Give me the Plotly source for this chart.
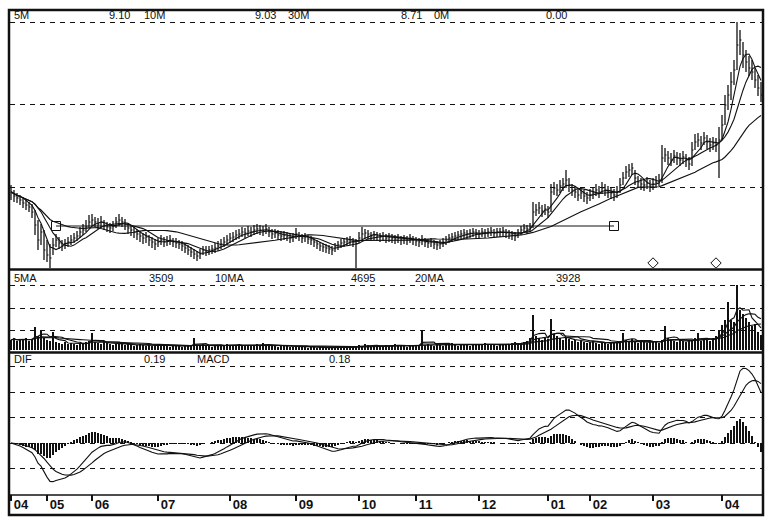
import plotly.graph_objects as go
import pandas as pd

# ---------------- data ----------------
month_labels = ["04", "05", "06", "07", "08", "09", "10", "11", "12", "01", "02", "03", "04"]
month_start = [0, 12, 27, 49, 73, 95, 116, 135, 156, 179, 193, 214, 237]

close = [
    7.88, 7.84, 7.82, 7.80, 7.77, 7.75, 7.73, 7.68, 7.55, 7.40,
    7.48, 7.30, 7.25, 7.22, 7.35, 7.40, 7.37, 7.34, 7.36, 7.38,
    7.40, 7.42, 7.44, 7.48, 7.50, 7.53, 7.58, 7.60, 7.58, 7.56,
    7.58, 7.55, 7.53, 7.52, 7.54, 7.58, 7.60, 7.58, 7.56, 7.52,
    7.50, 7.48, 7.46, 7.44, 7.42, 7.43, 7.40, 7.38, 7.36, 7.38,
    7.40, 7.38, 7.39, 7.40, 7.38, 7.37, 7.36, 7.34, 7.32, 7.30,
    7.28, 7.26, 7.24, 7.26, 7.30, 7.29, 7.30, 7.31, 7.32, 7.34,
    7.36, 7.38, 7.40, 7.42, 7.43, 7.45, 7.46, 7.48, 7.47, 7.49,
    7.48, 7.50, 7.51, 7.50, 7.49, 7.51, 7.48, 7.46, 7.47, 7.45,
    7.44, 7.45, 7.44, 7.42, 7.43, 7.46, 7.44, 7.42, 7.43, 7.41,
    7.40, 7.38, 7.36, 7.34, 7.33, 7.32, 7.31, 7.30, 7.33, 7.35,
    7.37, 7.38, 7.39, 7.40, 7.38, 7.36, 7.42, 7.46, 7.47, 7.46,
    7.44, 7.45, 7.44, 7.43, 7.44, 7.42, 7.43, 7.42, 7.41, 7.42,
    7.40, 7.41, 7.40, 7.42, 7.40, 7.39, 7.38, 7.40, 7.38, 7.37,
    7.38, 7.36, 7.35, 7.36, 7.38, 7.40, 7.42, 7.43, 7.44, 7.45,
    7.46, 7.47, 7.46, 7.47, 7.48, 7.47, 7.46, 7.48, 7.47, 7.48,
    7.49, 7.47, 7.48, 7.48, 7.49, 7.47, 7.46, 7.45, 7.44, 7.47,
    7.50, 7.52, 7.51, 7.53, 7.68, 7.70, 7.72, 7.69, 7.71, 7.68,
    7.88, 7.92, 7.90, 7.94, 7.96, 8.00, 7.95, 7.90, 7.88, 7.85,
    7.87, 7.84, 7.82, 7.85, 7.87, 7.90, 7.88, 7.92, 7.90, 7.88,
    7.87, 7.85, 7.88, 7.95, 8.02, 8.08, 8.10, 8.12, 8.02, 7.98,
    7.96, 7.95, 7.97, 7.94, 7.96, 7.98, 8.00, 8.22, 8.25, 8.22,
    8.20, 8.24, 8.22, 8.20, 8.23, 8.20, 8.16, 8.30, 8.38, 8.40,
    8.37, 8.42, 8.38, 8.35, 8.37, 8.35, 8.40, 8.55, 8.75, 8.85,
    8.98, 9.10, 9.35, 9.40, 9.25, 9.18, 9.12, 9.08, 9.00, 8.92,
    8.85,
]

high = [
    7.95, 7.90, 7.87, 7.85, 7.82, 7.80, 7.78, 7.76, 7.70, 7.60,
    7.56, 7.50, 7.40, 7.36, 7.42, 7.46, 7.43, 7.40, 7.41, 7.43,
    7.45, 7.47, 7.49, 7.53, 7.56, 7.60, 7.65, 7.66, 7.63, 7.62,
    7.64, 7.60, 7.58, 7.57, 7.59, 7.63, 7.66, 7.63, 7.61, 7.57,
    7.54, 7.53, 7.51, 7.49, 7.47, 7.48, 7.45, 7.43, 7.41, 7.42,
    7.45, 7.43, 7.44, 7.45, 7.42, 7.42, 7.40, 7.39, 7.37, 7.35,
    7.33, 7.31, 7.29, 7.31, 7.34, 7.34, 7.34, 7.35, 7.37, 7.39,
    7.41, 7.43, 7.45, 7.47, 7.48, 7.50, 7.51, 7.53, 7.52, 7.54,
    7.53, 7.55, 7.56, 7.55, 7.54, 7.56, 7.53, 7.51, 7.51, 7.50,
    7.49, 7.49, 7.48, 7.47, 7.47, 7.52, 7.48, 7.46, 7.47, 7.45,
    7.44, 7.42, 7.40, 7.38, 7.37, 7.36, 7.35, 7.34, 7.37, 7.39,
    7.41, 7.42, 7.43, 7.44, 7.42, 7.41, 7.48, 7.53, 7.51, 7.50,
    7.48, 7.49, 7.48, 7.47, 7.48, 7.46, 7.47, 7.46, 7.45, 7.46,
    7.44, 7.45, 7.44, 7.46, 7.44, 7.43, 7.42, 7.45, 7.42, 7.41,
    7.42, 7.40, 7.39, 7.40, 7.42, 7.44, 7.46, 7.47, 7.48, 7.49,
    7.50, 7.51, 7.50, 7.51, 7.52, 7.51, 7.50, 7.52, 7.51, 7.52,
    7.53, 7.51, 7.52, 7.52, 7.53, 7.51, 7.50, 7.49, 7.48, 7.51,
    7.54, 7.56, 7.55, 7.57, 7.78, 7.76, 7.78, 7.75, 7.76, 7.74,
    7.96, 7.98, 7.96, 8.00, 8.02, 8.10, 8.02, 7.96, 7.94, 7.91,
    7.93, 7.90, 7.88, 7.91, 7.93, 7.96, 7.94, 7.98, 7.96, 7.94,
    7.93, 7.91, 7.94, 8.02, 8.08, 8.14, 8.16, 8.17, 8.10, 8.04,
    8.02, 8.01, 8.03, 8.00, 8.02, 8.04, 8.06, 8.35, 8.32, 8.29,
    8.27, 8.30, 8.28, 8.27, 8.29, 8.26, 8.23, 8.38, 8.46, 8.47,
    8.44, 8.48, 8.45, 8.42, 8.43, 8.42, 8.53, 8.65, 8.85, 8.95,
    9.08, 9.20, 9.58, 9.50, 9.38, 9.30, 9.24, 9.20, 9.12, 9.05,
    8.98,
]

low = [
    7.80, 7.78, 7.77, 7.75, 7.72, 7.70, 7.68, 7.62, 7.45, 7.30,
    7.35, 7.20, 7.18, 7.12, 7.25, 7.33, 7.31, 7.29, 7.31, 7.33,
    7.35, 7.37, 7.39, 7.42, 7.45, 7.48, 7.52, 7.54, 7.53, 7.51,
    7.52, 7.50, 7.48, 7.47, 7.49, 7.52, 7.54, 7.53, 7.50, 7.46,
    7.44, 7.42, 7.40, 7.38, 7.36, 7.37, 7.34, 7.32, 7.30, 7.33,
    7.35, 7.33, 7.34, 7.35, 7.33, 7.32, 7.31, 7.29, 7.27, 7.25,
    7.23, 7.21, 7.19, 7.21, 7.25, 7.24, 7.25, 7.26, 7.27, 7.29,
    7.31, 7.33, 7.35, 7.37, 7.38, 7.40, 7.41, 7.43, 7.42, 7.44,
    7.43, 7.45, 7.46, 7.45, 7.44, 7.46, 7.43, 7.41, 7.42, 7.40,
    7.39, 7.40, 7.39, 7.37, 7.38, 7.41, 7.39, 7.37, 7.38, 7.36,
    7.35, 7.33, 7.31, 7.29, 7.28, 7.27, 7.26, 7.25, 7.28, 7.30,
    7.32, 7.33, 7.34, 7.35, 7.33, 7.10, 7.37, 7.41, 7.42, 7.41,
    7.39, 7.40, 7.39, 7.38, 7.39, 7.37, 7.38, 7.37, 7.36, 7.37,
    7.35, 7.36, 7.35, 7.37, 7.35, 7.34, 7.33, 7.35, 7.33, 7.32,
    7.33, 7.31, 7.30, 7.31, 7.33, 7.35, 7.37, 7.38, 7.39, 7.40,
    7.41, 7.42, 7.41, 7.42, 7.43, 7.42, 7.41, 7.43, 7.42, 7.43,
    7.44, 7.42, 7.43, 7.43, 7.44, 7.42, 7.41, 7.40, 7.39, 7.42,
    7.45, 7.47, 7.46, 7.48, 7.52, 7.64, 7.66, 7.63, 7.65, 7.62,
    7.68, 7.85, 7.84, 7.87, 7.89, 7.92, 7.88, 7.84, 7.82, 7.79,
    7.81, 7.78, 7.76, 7.79, 7.81, 7.84, 7.82, 7.86, 7.84, 7.82,
    7.81, 7.79, 7.82, 7.87, 7.95, 8.01, 8.03, 8.05, 7.95, 7.92,
    7.90, 7.89, 7.91, 7.88, 7.90, 7.92, 7.94, 7.97, 8.18, 8.15,
    8.14, 8.17, 8.15, 8.14, 8.16, 8.13, 8.10, 8.14, 8.30, 8.33,
    8.30, 8.35, 8.31, 8.28, 8.30, 8.28, 8.02, 8.40, 8.55, 8.70,
    8.80, 8.95, 9.10, 9.25, 9.12, 9.08, 9.04, 9.00, 8.92, 8.84,
    8.78,
]

volume = [
    1500, 1800, 1350, 1650, 1500, 1800, 1350, 1650, 3450, 2100,
    3000, 1800, 1500, 1350, 2700, 1200, 1050, 900, 1200, 900,
    1050, 900, 750, 1050, 900, 1200, 1350, 2550, 1200, 1050,
    900, 1350, 1050, 900, 750, 900, 1200, 1050, 750, 900,
    750, 600, 750, 900, 750, 600, 750, 600, 750, 900,
    600, 750, 600, 450, 600, 750, 600, 450, 600, 750,
    600, 1800, 750, 600, 900, 750, 600, 450, 600, 750,
    600, 750, 900, 750, 600, 750, 900, 750, 600, 750,
    600, 750, 900, 750, 1050, 750, 600, 750, 600, 450,
    600, 750, 600, 450, 450, 600, 450, 600, 450, 300,
    450, 450, 300, 450, 300, 450, 300, 300, 450, 300,
    450, 300, 450, 450, 600, 450, 750, 600, 900, 750,
    600, 750, 600, 450, 600, 750, 600, 750, 900, 600,
    750, 600, 450, 600, 750, 600, 750, 3000, 750, 900,
    750, 600, 900, 750, 600, 750, 900, 1050, 750, 600,
    750, 900, 750, 600, 750, 900, 750, 900, 1050, 750,
    900, 750, 600, 750, 900, 750, 900, 1050, 1200, 900,
    1050, 1200, 1350, 1800, 5250, 2100, 1800, 1500, 1800, 1650,
    4650, 2400, 2100, 1800, 1500, 1800, 1650, 1350, 1500, 1200,
    1350, 1200, 1050, 1200, 1350, 1050, 900, 1200, 1050, 900,
    1050, 1200, 1050, 1350, 2550, 1500, 1350, 1650, 1200, 1050,
    1200, 1350, 1050, 1200, 1350, 1200, 1050, 1500, 3600, 1800,
    1500, 1350, 1200, 1500, 1350, 1200, 1350, 1500, 1800, 2550,
    1350, 1500, 1650, 1350, 1800, 2100, 3000, 3750, 4500, 7200,
    4500, 4200, 9750, 6000, 5400, 4800, 4200, 3600, 3900, 2700,
    2250,
]

trend_x = [15, 201]
trend_level = 7.54
signal_x = [214, 235]
signal_level = 7.17

price_header = [("5M", 12), ("9.10", 107), ("10M", 142), ("9.03", 253),
                ("30M", 286), ("8.71", 399), ("0M", 432), ("0.00", 544)]
vol_header = [("5MA", 12), ("3509", 147), ("10MA", 213), ("4695", 349),
              ("20MA", 413), ("3928", 554)]
macd_header = [("DIF", 12), ("0.19", 142), ("MACD", 195), ("0.18", 327)]

# ---------------- derived indicators ----------------
idx = list(range(len(close)))
s = pd.Series(close)
ma5 = s.rolling(5, min_periods=1).mean()
ma10 = s.rolling(10, min_periods=1).mean()
ma30 = s.rolling(30, min_periods=1).mean()
v = pd.Series(volume)
vma5 = v.rolling(5, min_periods=1).mean()
vma10 = v.rolling(10, min_periods=1).mean()
vma20 = v.rolling(20, min_periods=1).mean()
ema12 = s.ewm(span=12, adjust=False).mean()
ema26 = s.ewm(span=26, adjust=False).mean()
dif = ema12 - ema26
dea = dif.ewm(span=9, adjust=False).mean()
hist = dif - dea

# ---------------- layout helpers (pixel -> paper) ----------------
L, R, T, B = 10, 762, 10, 495
W, H = R - L, B - T


def pxx(x):
    return (x - L) / W


def pxy(y):
    return (B - y) / H


BLACK = "#111111"
fig = go.Figure()

# price bars: high-low stems + close ticks
bx, by, tx, ty = [], [], [], []
for i, (h, lo, c) in enumerate(zip(high, low, close)):
    bx += [i, i, None]
    by += [lo, h, None]
    tx += [i, i + 0.5, None]
    ty += [c, c, None]
fig.add_trace(go.Scatter(x=bx, y=by, mode="lines", line=dict(color=BLACK, width=1.3),
                         xaxis="x", yaxis="y"))
fig.add_trace(go.Scatter(x=tx, y=ty, mode="lines", line=dict(color=BLACK, width=1),
                         xaxis="x", yaxis="y"))
for ma in (ma5, ma10, ma30):
    fig.add_trace(go.Scatter(x=idx, y=ma, mode="lines", line=dict(color=BLACK, width=1.1),
                             xaxis="x", yaxis="y"))
fig.add_trace(go.Scatter(x=trend_x, y=[trend_level] * len(trend_x), mode="lines+markers",
                         line=dict(color=BLACK, width=1),
                         marker=dict(symbol="square-open", size=9, color=BLACK, line=dict(width=1)),
                         xaxis="x", yaxis="y"))
fig.add_trace(go.Scatter(x=signal_x, y=[signal_level] * len(signal_x), mode="markers",
                         marker=dict(symbol="diamond-open", size=8, color=BLACK, line=dict(width=1)),
                         xaxis="x", yaxis="y"))

# volume
fig.add_trace(go.Bar(x=idx, y=volume, width=0.55, marker=dict(color=BLACK, line=dict(width=0)),
                     xaxis="x", yaxis="y2"))
for ma in (vma5, vma10, vma20):
    fig.add_trace(go.Scatter(x=idx, y=ma, mode="lines", line=dict(color=BLACK, width=1.1),
                             xaxis="x", yaxis="y2"))

# MACD
fig.add_trace(go.Bar(x=idx, y=hist, width=0.5, marker=dict(color=BLACK, line=dict(width=0)),
                     xaxis="x", yaxis="y3"))
fig.add_trace(go.Scatter(x=idx, y=dif, mode="lines", line=dict(color=BLACK, width=1.1),
                         xaxis="x", yaxis="y3"))
fig.add_trace(go.Scatter(x=idx, y=dea, mode="lines", line=dict(color=BLACK, width=1.1),
                         xaxis="x", yaxis="y3"))

grid = dict(showgrid=True, gridcolor=BLACK, gridwidth=1, griddash="5px,5px",
            showticklabels=False, ticks="", zeroline=False, showline=False, fixedrange=True)

# price: px 11..268 ; vol: px 271..351 ; macd: px 354..494
fig.update_layout(
    width=771, height=522,
    margin=dict(l=L, r=771 - R, t=T, b=522 - B),
    paper_bgcolor="white", plot_bgcolor="white",
    showlegend=False, hovermode=False, bargap=0,
    xaxis=dict(range=[-1 / 3, 250 + 1 / 3], anchor="y3", showgrid=False, zeroline=False,
               showline=False, tickvals=month_start, ticktext=month_labels,
               ticks="outside", ticklen=6, tickwidth=1.5, tickcolor=BLACK,
               ticklabelposition="outside right", ticklabelstandoff=-2, ticklabelshift=2,
               fixedrange=True,
               tickfont=dict(family="Liberation Sans", size=13, color=BLACK, weight="bold")),
    yaxis=dict(domain=[pxy(268), pxy(11)], range=[7.12, 9.69],
               tickvals=[7.93, 8.755, 9.58], **grid),
    yaxis2=dict(domain=[pxy(351), pxy(271)], range=[-150, 11850],
                tickvals=[3000, 6300, 9750], **grid),
    yaxis3=dict(domain=[pxy(494), pxy(354)], range=[-0.2, 0.349],
                tickvals=[-0.1, 0, 0.1, 0.2, 0.3], **grid),
)

shapes = [
    dict(type="rect", xref="paper", yref="paper", x0=pxx(9), x1=pxx(763), y0=pxy(515), y1=pxy(10),
         line=dict(color=BLACK, width=2.5)),
    dict(type="line", xref="paper", yref="paper", x0=pxx(9), x1=pxx(763), y0=pxy(269.5), y1=pxy(269.5),
         line=dict(color=BLACK, width=2.5)),
    dict(type="line", xref="paper", yref="paper", x0=pxx(9), x1=pxx(763), y0=pxy(352.5), y1=pxy(352.5),
         line=dict(color=BLACK, width=2.5)),
    dict(type="line", xref="paper", yref="paper", x0=pxx(9), x1=pxx(763), y0=pxy(495), y1=pxy(495),
         line=dict(color=BLACK, width=1.5)),
]
fig.update_layout(shapes=shapes)

annots = []
for items, ypx in ((price_header, 15), (vol_header, 278), (macd_header, 359)):
    for text, xpx in items:
        annots.append(dict(text=text, x=pxx(xpx), y=pxy(ypx), xref="paper", yref="paper",
                           xanchor="left", yanchor="middle", showarrow=False,
                           font=dict(family="Liberation Sans", size=11, color=BLACK)))
fig.update_layout(annotations=annots)

fig.write_html("out.html", config={"displayModeBar": False, "staticPlot": True},
               post_script="document.body.style.margin='0';")
